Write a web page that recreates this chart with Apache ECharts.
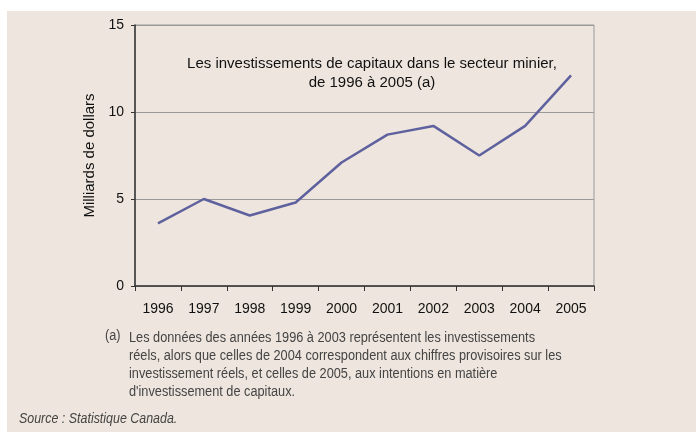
<!DOCTYPE html>
<html>
<head>
<meta charset="UTF-8">
<title>Investissements secteur minier</title>
<script type="text/javascript" src="https://cdn.jsdelivr.net/npm/echarts@6/dist/echarts.min.js"></script>
<style>
  html, body { margin: 0; padding: 0; background: #fff; }
</style>
</head>
<body>
<div id="main" style="width:696px;height:432px"></div>
<script type="text/javascript">
var years = ['1996', '1997', '1998', '1999', '2000', '2001', '2002', '2003', '2004', '2005'];
var invest = [3.6, 5.0, 4.05, 4.8, 7.1, 8.7, 9.2, 7.5, 9.2, 12.1];
var yTicks = [0, 5, 10, 15];

var titleLines = ['Les investissements de capitaux dans le secteur minier,', 'de 1996 à 2005 (a)'];
var noteLines = [
  'Les données des années 1996 à 2003 représentent les investissements',
  'réels, alors que celles de 2004 correspondent aux chiffres provisoires sur les',
  'investissement réels, et celles de 2005, aux intentions en matière',
  'd\'investissement de capitaux.'
];
var sourceText = 'Source : Statistique Canada.';

// fit text widths to what the reference shows
var ctx = document.createElement('canvas').getContext('2d');
ctx.font = '14px "Liberation Sans"';
var titleSize = 14 * 370 / ctx.measureText(titleLines[0]).width;

// the footnote is set in a condensed face: squeeze a normal one to the same width
var noteFont = '14px "Liberation Sans", Arial, sans-serif';
var srcFont = 'italic 14px "Liberation Sans", Arial, sans-serif';
ctx.font = noteFont;
var noteScale = 406 / ctx.measureText(noteLines[0]).width;
ctx.font = srcFont;
var srcScale = 141 / ctx.measureText('Source : Statistique Cana').width;

var myChart = echarts.init(document.getElementById('main'));

var option = {
  backgroundColor: '#ffffff',
  animation: false,
  title: {
    text: titleLines.join('\n'),
    left: 367,
    top: 49,
    textAlign: 'center',
    textStyle: {
      fontFamily: 'Liberation Sans, Arial',
      fontSize: titleSize,
      fontWeight: 'normal',
      color: '#111',
      lineHeight: 19
    }
  },
  graphic: [
    { type: 'rect', z: -10, silent: true,
      shape: { x: 7, y: 11, width: 689, height: 421 },
      style: { fill: '#eee6de' } },
    { type: 'text', x: 105, y: 329, scaleX: noteScale,
      style: { text: '(a)', font: noteFont, fill: '#444' } },
    { type: 'text', x: 129, y: 329, scaleX: noteScale,
      style: { text: noteLines.join('\n'), font: noteFont, fill: '#444', lineHeight: 18 } },
    { type: 'text', x: 19, y: 412, scaleX: srcScale,
      style: { text: sourceText, font: srcFont, fill: '#444' } }
  ],
  grid: {
    left: 135, right: 102, top: 25, bottom: 146,
    show: true, borderColor: '#999', borderWidth: 1, backgroundColor: 'transparent'
  },
  xAxis: {
    type: 'category',
    data: years,
    boundaryGap: true,
    axisLine: { lineStyle: { color: '#333', width: 1.5 } },
    axisTick: { show: true, inside: false, length: 5, lineStyle: { color: '#333' } },
    axisLabel: { margin: 16, fontFamily: 'Liberation Sans, Arial', fontSize: 14, color: '#111' },
    splitLine: { show: false }
  },
  yAxis: {
    type: 'value',
    min: yTicks[0],
    max: yTicks[yTicks.length - 1],
    interval: 5,
    name: 'Milliards de dollars',
    nameLocation: 'middle',
    nameRotate: 90,
    nameGap: 38,
    nameTextStyle: { fontFamily: 'Liberation Sans, Arial', fontSize: 15, color: '#111' },
    axisLine: { show: true, lineStyle: { color: '#333', width: 1.5 } },
    axisTick: { show: true, inside: false, length: 4, lineStyle: { color: '#333' } },
    axisLabel: { margin: 11, fontFamily: 'Liberation Sans, Arial', fontSize: 14, color: '#111' },
    splitLine: { show: true, lineStyle: { color: '#999', width: 1 } }
  },
  series: [{
    name: 'Investissements',
    type: 'line',
    data: invest,
    symbol: 'none',
    lineStyle: { color: '#5f619e', width: 2.5 }
  }]
};
myChart.setOption(option);
</script>
</body>
</html>
